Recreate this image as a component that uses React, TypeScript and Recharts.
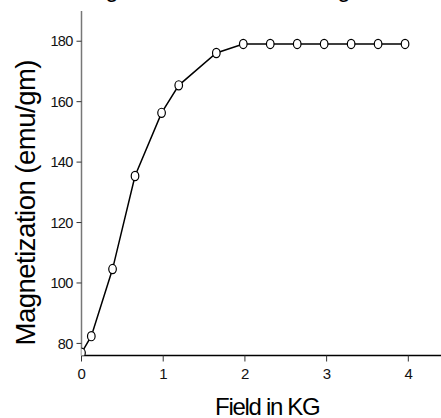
import React from 'react';
import { LineChart, Line, XAxis, YAxis, Label, Customized } from 'recharts';

const fieldKG = [0, 0.12, 0.38, 0.655, 0.98, 1.19, 1.65, 1.98, 2.31, 2.64, 2.97, 3.3, 3.63, 3.96];
const magnetization = [76.9, 82.4, 104.6, 135.4, 156.3, 165.4, 176.1, 179.1, 179.1, 179.1, 179.1, 179.1, 179.1, 179.1];
const xTicks = [0, 1, 2, 3, 4];
const yTicks = [80, 100, 120, 140, 160, 180];
const titleFragments = [
  { x: 112, t: 'g' },
  { x: 344, t: 'g' },
];

const data = fieldKG.map((x, i) => ({ x, y: magnetization[i] }));

const FONT = '"Liberation Sans", Arial, sans-serif';

const OpenDot = (props: any) => {
  const { cx, cy, index } = props;
  if (cx == null || cy == null) return null;
  return <ellipse key={index} cx={cx} cy={cy} rx={3.8} ry={4.6} fill="#fff" stroke="#000" strokeWidth={1.2} />;
};

const XLab = (props: any) => {
  const vb = props.viewBox || {};
  return (
    <text x={vb.x + vb.width / 2 + 6} y={415} textAnchor="middle" fontFamily={FONT} fontSize={24} letterSpacing={-1.3} fill="#000">
      Field in KG
    </text>
  );
};

const YLab = (props: any) => {
  const vb = props.viewBox || {};
  const cx = 35;
  const cy = vb.y + vb.height / 2 + 19.5;
  return (
    <text x={cx} y={cy} transform={`rotate(-90, ${cx}, ${cy})`} textAnchor="middle" fontFamily={FONT} fontSize={27.5} letterSpacing={-0.5} fill="#000">
      Magnetization (emu/gm)
    </text>
  );
};

const TitleBits = () => (
  <g>
    {titleFragments.map((f, i) => (
      <text key={i} x={f.x} y={-3} textAnchor="middle" fontFamily={FONT} fontSize={24} fill="#000">
        {f.t}
      </text>
    ))}
  </g>
);

export default function App() {
  return (
    <div style={{ position: 'absolute', left: 0, top: 0, width: 441, height: 418, background: '#fff' }}>
      <LineChart width={441} height={418} data={data} margin={{ top: 11, right: 0, bottom: 0, left: 0 }}>
        <XAxis
          dataKey="x"
          type="number"
          domain={[0, 4.4]}
          ticks={xTicks}
          allowDataOverflow
          height={62.5}
          axisLine={{ stroke: '#000', strokeWidth: 1.5 }}
          tickLine={{ stroke: '#333', strokeWidth: 1 }}
          tickSize={6}
          tickMargin={7}
          tick={{ fontFamily: FONT, fontSize: 15, fill: '#111', letterSpacing: -0.5 }}
        >
          <Label content={<XLab />} />
        </XAxis>
        <YAxis
          type="number"
          domain={[76, 190]}
          ticks={yTicks}
          allowDataOverflow
          width={81.5}
          axisLine={{ stroke: '#777', strokeWidth: 1.5 }}
          tickLine={{ stroke: '#333', strokeWidth: 1 }}
          tickSize={5}
          tickMargin={4}
          tick={{ fontFamily: FONT, fontSize: 14.5, fill: '#111', letterSpacing: -0.7 }}
        >
          <Label content={<YLab />} />
        </YAxis>
        <Line
          type="linear"
          dataKey="y"
          stroke="#000"
          strokeWidth={1.5}
          dot={<OpenDot />}
          activeDot={false}
          isAnimationActive={false}
        />
        <Customized component={TitleBits} />
      </LineChart>
    </div>
  );
}
